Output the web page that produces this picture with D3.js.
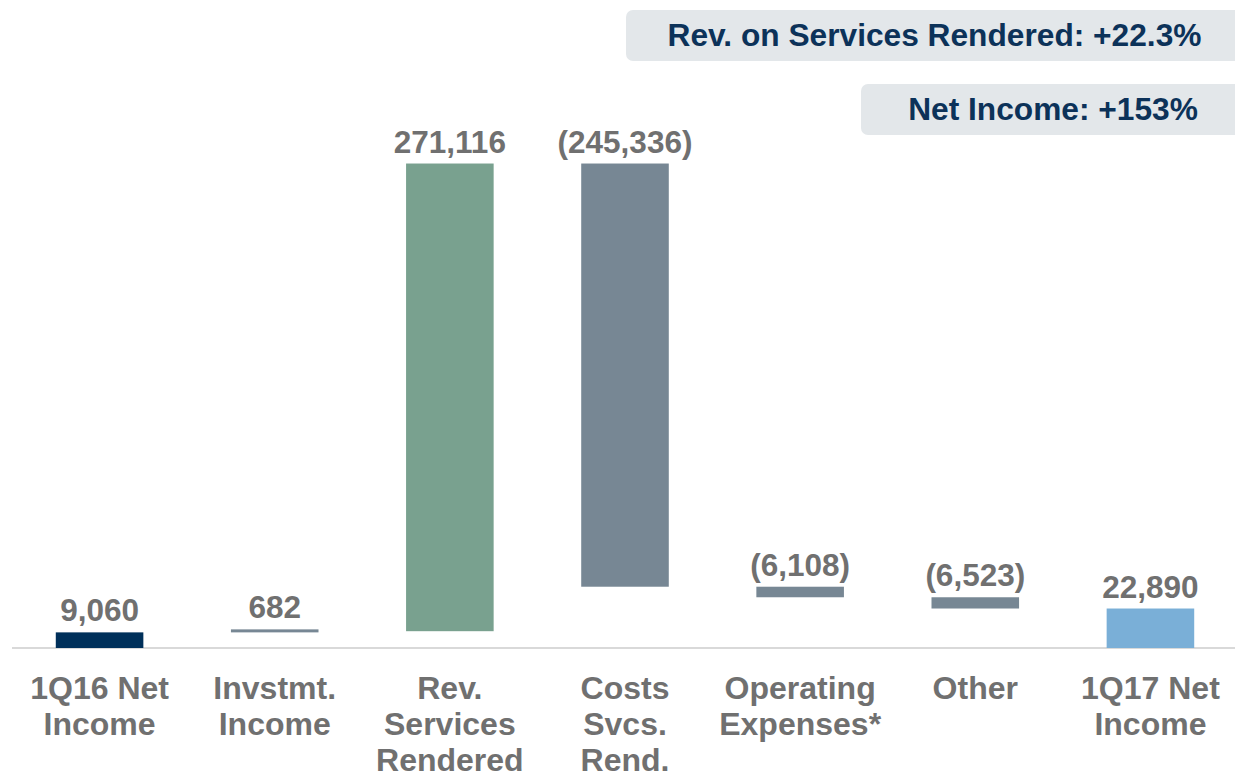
<!DOCTYPE html>
<html>
<head>
<meta charset="utf-8">
<script src="https://cdn.jsdelivr.net/npm/d3@7"></script>
<style>
  html, body { margin: 0; padding: 0; background: #ffffff; }
  svg { display: block; font-family: "Liberation Sans", Arial, Helvetica, sans-serif; }
</style>
</head>
<body>
<svg id="chart" width="1235" height="778"></svg>
<script>
// Net income bridge, 1Q16 -> 1Q17 (R$ thousand)
const categories = [
  "1Q16 Net|Income",
  "Invstmt.|Income",
  "Rev.|Services|Rendered",
  "Costs|Svcs.|Rend.",
  "Operating|Expenses*",
  "Other",
  "1Q17 Net|Income"
];
const values = [9060, 682, 271116, -245336, -6108, -6523, 22890];
const barTypes = ["total", "step", "step", "step", "step", "step", "total"];
const barColors = ["#00305a", "#778794", "#79a18f", "#778794", "#778794", "#778794", "#7aafd7"];
const callouts = ["Rev. on Services Rendered: +22.3%", "Net Income: +153%"];

const svg = d3.select("#chart");
const W = 1235;

// running totals for the waterfall
let running = 0;
const bars = values.map((v, i) => {
  let lo, hi;
  if (barTypes[i] === "total") {
    lo = 0; hi = v; running = v;
  } else {
    const start = running;
    running += v;
    lo = Math.min(start, running); hi = Math.max(start, running);
  }
  return { cat: categories[i], value: v, lo, hi, color: barColors[i] };
});

const x = d3.scaleBand()
  .domain(categories)
  .range([12, 1238])
  .paddingInner(0.5)
  .paddingOuter(0.25);

const y = d3.scaleLinear()
  .domain([0, 300000])
  .range([648, 130.5]);

const fmt = d3.format(",");
const valueText = v => v < 0 ? "(" + fmt(-v) + ")" : fmt(v);

// callout boxes
const boxes = [
  { text: callouts[0], x: 626, y: 10, w: 617, h: 51 },
  { text: callouts[1], x: 861, y: 84, w: 384, h: 51 }
];
const cg = svg.append("g");
cg.selectAll("rect").data(boxes).join("rect")
  .attr("x", d => d.x).attr("y", d => d.y)
  .attr("width", d => d.w).attr("height", d => d.h)
  .attr("rx", 7).attr("ry", 7)
  .attr("fill", "#e3e7ea");
cg.selectAll("text").data(boxes).join("text")
  .attr("x", d => d.x + d.w / 2)
  .attr("y", d => d.y + 35.5)
  .attr("text-anchor", "middle")
  .attr("font-size", 31.7)
  .attr("font-weight", "bold")
  .attr("fill", "#0c3259")
  .text(d => d.text);

// baseline
svg.append("line")
  .attr("x1", 12).attr("x2", W)
  .attr("y1", y(0)).attr("y2", y(0))
  .attr("stroke", "#d9d9d9")
  .attr("stroke-width", 2);

// bars (thin steps are kept visible with a minimum height)
const minH = 3;
svg.append("g").selectAll("rect").data(bars).join("rect")
  .attr("x", d => x(d.cat))
  .attr("width", x.bandwidth())
  .attr("y", d => {
    const h = y(d.lo) - y(d.hi);
    return h < minH ? y(d.lo) - minH : y(d.hi);
  })
  .attr("height", d => Math.max(minH, y(d.lo) - y(d.hi)))
  .attr("fill", d => d.color);

// value labels
svg.append("g").selectAll("text").data(bars).join("text")
  .attr("x", d => x(d.cat) + x.bandwidth() / 2)
  .attr("y", d => Math.min(y(d.hi), y(d.lo) - minH) - 11)
  .attr("text-anchor", "middle")
  .attr("font-size", 31.5)
  .attr("font-weight", "bold")
  .attr("fill", "#707070")
  .text(d => valueText(d.value));

// category labels
const lg = svg.append("g");
categories.forEach(c => {
  const cx = x(c) + x.bandwidth() / 2;
  const t = lg.append("text")
    .attr("x", cx)
    .attr("y", 699)
    .attr("text-anchor", "middle")
    .attr("font-size", 32)
    .attr("font-weight", "bold")
    .attr("fill", "#707070");
  c.split("|").forEach((line, j) => {
    t.append("tspan")
      .attr("x", cx)
      .attr("dy", j === 0 ? 0 : 36)
      .text(line);
  });
});
</script>
</body>
</html>
